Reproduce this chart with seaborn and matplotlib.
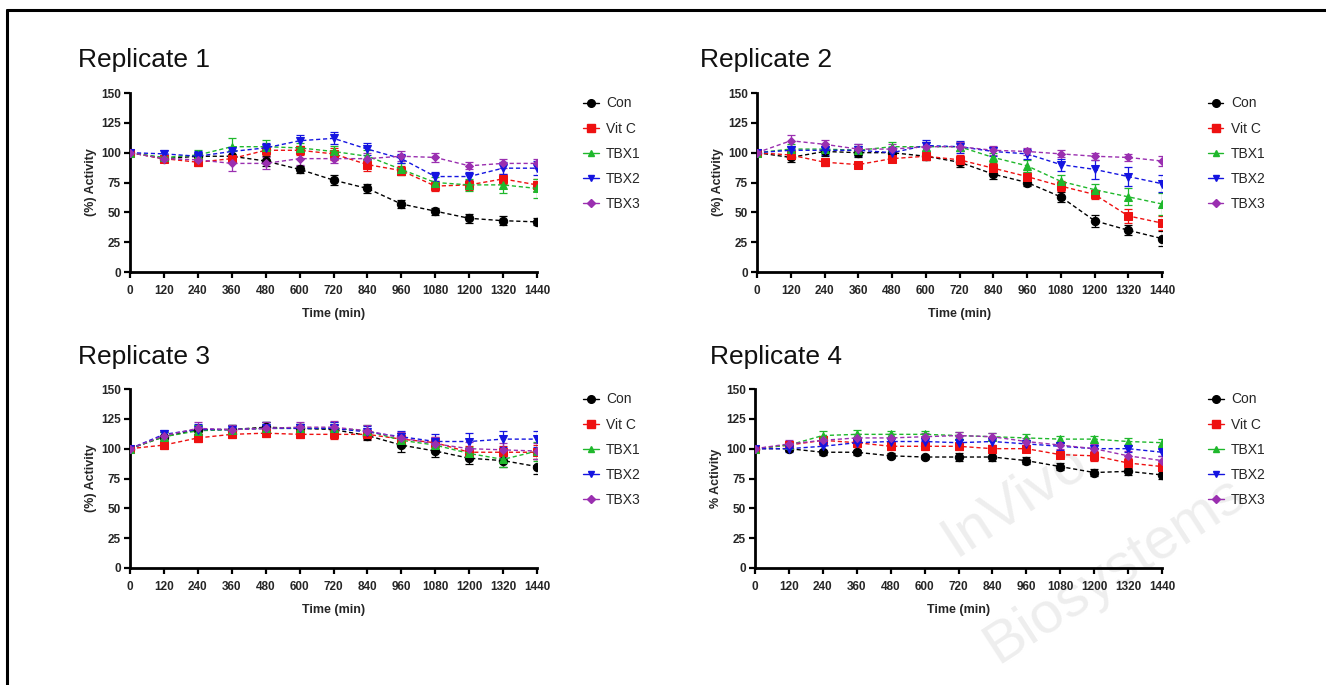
import seaborn as sns
import matplotlib.pyplot as plt
import pandas as pd
from matplotlib.lines import Line2D

# time points (min)
times = [0, 120, 240, 360, 480, 600, 720, 840, 960, 1080, 1200, 1320, 1440]
groups = ['Con', 'Vit C', 'TBX1', 'TBX2', 'TBX3']

# Replicate 1
rep1_con = [100, 95, 97, 97, 93, 86, 77, 70, 57, 51, 45, 43, 42]
rep1_vitc = [100, 95, 92, 95, 102, 102, 99, 90, 85, 72, 73, 78, 73]
rep1_tbx1 = [100, 96, 98, 105, 105, 104, 101, 97, 86, 75, 73, 73, 70]
rep1_tbx2 = [100, 99, 97, 101, 104, 110, 112, 103, 95, 80, 80, 87, 87]
rep1_tbx3 = [100, 95, 94, 91, 91, 95, 95, 95, 97, 96, 89, 91, 91]
rep1_con_err = [0, 2, 3, 4, 4, 3, 4, 4, 3, 3, 4, 4, 3]
rep1_vitc_err = [0, 2, 3, 3, 4, 4, 5, 5, 4, 4, 4, 4, 5]
rep1_tbx1_err = [0, 2, 4, 7, 6, 4, 5, 5, 5, 5, 5, 7, 8]
rep1_tbx2_err = [0, 3, 4, 4, 4, 5, 5, 5, 4, 4, 4, 5, 6]
rep1_tbx3_err = [0, 3, 4, 6, 5, 5, 4, 5, 4, 4, 3, 4, 4]

# Replicate 2
rep2_con = [100, 96, 101, 100, 100, 97, 92, 82, 75, 63, 43, 35, 28]
rep2_vitc = [100, 98, 92, 90, 95, 97, 94, 87, 80, 72, 65, 47, 41]
rep2_tbx1 = [100, 103, 103, 102, 105, 105, 105, 96, 89, 76, 69, 63, 57]
rep2_tbx2 = [100, 102, 102, 102, 100, 106, 105, 101, 99, 90, 86, 80, 74]
rep2_tbx3 = [100, 110, 107, 103, 103, 105, 105, 102, 101, 99, 97, 96, 93]
rep2_con_err = [0, 4, 4, 4, 4, 3, 4, 4, 3, 4, 5, 4, 6]
rep2_vitc_err = [0, 3, 3, 2, 3, 3, 4, 4, 4, 4, 4, 6, 6]
rep2_tbx1_err = [0, 4, 4, 4, 4, 4, 4, 4, 5, 5, 5, 7, 9]
rep2_tbx2_err = [0, 4, 4, 5, 5, 5, 5, 4, 4, 5, 8, 8, 7]
rep2_tbx3_err = [0, 5, 4, 4, 4, 4, 4, 4, 3, 3, 3, 3, 4]

# Replicate 3
rep3_con = [100, 110, 116, 116, 118, 117, 116, 111, 103, 98, 92, 90, 85]
rep3_vitc = [100, 103, 109, 112, 113, 112, 112, 112, 108, 105, 97, 97, 97]
rep3_tbx1 = [100, 110, 115, 116, 117, 117, 117, 115, 107, 103, 96, 91, 98]
rep3_tbx2 = [100, 112, 116, 116, 117, 117, 117, 114, 110, 106, 106, 108, 108]
rep3_tbx3 = [100, 111, 117, 116, 117, 118, 118, 115, 109, 104, 100, 99, 98]
rep3_con_err = [0, 4, 4, 4, 4, 4, 4, 4, 6, 5, 5, 5, 6]
rep3_vitc_err = [0, 3, 3, 3, 3, 3, 4, 4, 5, 5, 5, 5, 6]
rep3_tbx1_err = [0, 4, 5, 4, 5, 4, 5, 5, 6, 6, 5, 6, 8]
rep3_tbx2_err = [0, 4, 5, 4, 5, 4, 5, 5, 5, 6, 7, 7, 7]
rep3_tbx3_err = [0, 4, 5, 4, 5, 4, 5, 5, 5, 6, 6, 6, 7]

# Replicate 4
rep4_con = [100, 100, 97, 97, 94, 93, 93, 93, 90, 85, 80, 81, 78]
rep4_vitc = [100, 103, 107, 105, 102, 102, 102, 100, 100, 95, 94, 88, 85]
rep4_tbx1 = [100, 103, 111, 112, 112, 112, 111, 110, 109, 108, 108, 106, 105]
rep4_tbx2 = [100, 100, 102, 105, 106, 106, 105, 106, 104, 102, 100, 100, 97]
rep4_tbx3 = [100, 104, 107, 109, 109, 110, 111, 110, 106, 103, 100, 94, 90]
rep4_con_err = [0, 2, 2, 2, 2, 2, 3, 3, 3, 3, 3, 3, 3]
rep4_vitc_err = [0, 3, 4, 4, 3, 3, 3, 3, 3, 3, 4, 4, 4]
rep4_tbx1_err = [0, 3, 4, 4, 3, 3, 3, 3, 3, 3, 3, 3, 3]
rep4_tbx2_err = [0, 3, 3, 3, 3, 3, 3, 3, 3, 3, 3, 3, 3]
rep4_tbx3_err = [0, 3, 3, 3, 3, 3, 3, 3, 3, 3, 4, 4, 4]

titles = ['Replicate 1', 'Replicate 2', 'Replicate 3', 'Replicate 4']
ylabels = ['(%) Activity', '(%) Activity', '(%) Activity', '% Activity']

colors = {'Con': '#000000', 'Vit C': '#ee1111', 'TBX1': '#1fb82c',
          'TBX2': '#1414e0', 'TBX3': '#9a2fb0'}
markers = {'Con': 'o', 'Vit C': 's', 'TBX1': '^', 'TBX2': 'v', 'TBX3': 'D'}
msizes = {'Con': 6, 'Vit C': 6, 'TBX1': 5.5, 'TBX2': 5.5, 'TBX3': 4.5}

reps = [
    ([rep1_con, rep1_vitc, rep1_tbx1, rep1_tbx2, rep1_tbx3],
     [rep1_con_err, rep1_vitc_err, rep1_tbx1_err, rep1_tbx2_err, rep1_tbx3_err]),
    ([rep2_con, rep2_vitc, rep2_tbx1, rep2_tbx2, rep2_tbx3],
     [rep2_con_err, rep2_vitc_err, rep2_tbx1_err, rep2_tbx2_err, rep2_tbx3_err]),
    ([rep3_con, rep3_vitc, rep3_tbx1, rep3_tbx2, rep3_tbx3],
     [rep3_con_err, rep3_vitc_err, rep3_tbx1_err, rep3_tbx2_err, rep3_tbx3_err]),
    ([rep4_con, rep4_vitc, rep4_tbx1, rep4_tbx2, rep4_tbx3],
     [rep4_con_err, rep4_vitc_err, rep4_tbx1_err, rep4_tbx2_err, rep4_tbx3_err]),
]

sns.set_style('ticks')
plt.rcParams['font.family'] = ['Liberation Sans', 'DejaVu Sans']

W, H = 1326, 685
fig = plt.figure(figsize=(W / 100, H / 100), dpi=100)

# axes boxes in pixels: left, top, right, bottom
boxes = [(130, 93, 537, 272), (757, 93, 1162, 272),
         (130, 389, 537, 568), (755, 389, 1162, 568)]
title_pos = [(78, 60), (700, 60), (78, 357), (710, 357)]

# faint watermark text (behind the charts)
fig.text(1015 / W, 1 - 500 / H, 'InVivo', fontsize=42, color='#eeeeee',
         rotation=33, ha='center', va='center', zorder=-1)
fig.text(1115 / W, 1 - 570 / H, 'Biosystems', fontsize=42, color='#eeeeee',
         rotation=33, ha='center', va='center', zorder=-1)

for i, (vals, errs) in enumerate(reps):
    l, t, r, b = boxes[i]
    ax = fig.add_axes([l / W, 1 - b / H, (r - l) / W, (b - t) / H])
    ax.patch.set_alpha(0)

    rows = []
    for g, v, e in zip(groups, vals, errs):
        for tt, vv, ee in zip(times, v, e):
            rows.append({'time': tt, 'activity': vv, 'err': ee, 'group': g})
    df = pd.DataFrame(rows)

    for g in groups:
        d = df[df['group'] == g]
        ax.errorbar(d['time'], d['activity'], yerr=d['err'], fmt='none',
                    ecolor=colors[g], elinewidth=0.9, capsize=3, capthick=0.9,
                    zorder=2)
        sns.lineplot(data=d, x='time', y='activity', ax=ax, color=colors[g],
                     marker=markers[g], markersize=msizes[g],
                     markeredgecolor=colors[g], linewidth=1.0,
                     linestyle=(0, (3, 2)), label=g, zorder=3)

    ax.set_xlim(0, 1440)
    ax.set_ylim(0, 150)
    ax.set_xticks(times)
    ax.set_yticks([0, 25, 50, 75, 100, 125, 150])
    ax.tick_params(axis='both', length=4, width=1.6, labelsize=8.5, pad=2.5,
                   color='black')
    ax.tick_params(axis='x', pad=5)
    for lab in ax.get_xticklabels() + ax.get_yticklabels():
        lab.set_fontweight('bold')
    for s in ['left', 'bottom']:
        ax.spines[s].set_linewidth(2)
        ax.spines[s].set_color('black')
    sns.despine(ax=ax)
    ax.set_xlabel('Time (min)', fontsize=9, fontweight='bold', labelpad=8)
    ax.set_ylabel(ylabels[i], fontsize=9, fontweight='bold', labelpad=3)

    handles = [Line2D([0], [0], color=colors[g], marker=markers[g],
                      markersize=msizes[g] - 0.5, linewidth=1.0) for g in groups]
    ax.legend(handles, groups, loc='upper left', bbox_to_anchor=(1.1, 1.012),
              frameon=False, fontsize=10, handlelength=1.1, handletextpad=0.55,
              labelspacing=0.8, borderaxespad=0)

    tx, ty = title_pos[i]
    fig.text(tx / W, 1 - ty / H, titles[i], fontsize=19, ha='left',
             va='center', color='#111111')

# frame lines along top and left edges
fig.add_artist(Line2D([6.5 / W, 1.0], [1 - 9.5 / H, 1 - 9.5 / H],
                      transform=fig.transFigure, color='black', linewidth=2.2))
fig.add_artist(Line2D([6.5 / W, 6.5 / W], [1 - 9.5 / H, 0.0],
                      transform=fig.transFigure, color='black', linewidth=2.2))

fig.savefig('out.png', dpi=100)
